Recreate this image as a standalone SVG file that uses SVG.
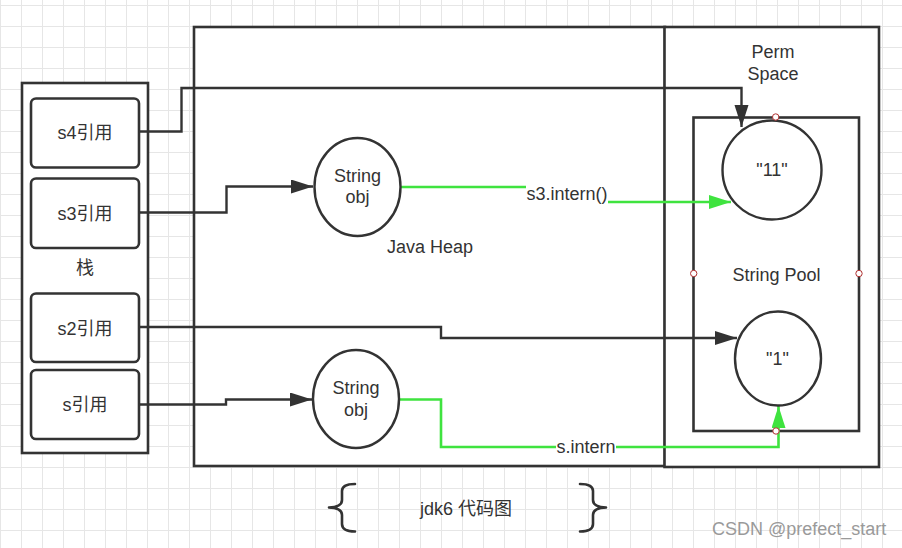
<svg xmlns="http://www.w3.org/2000/svg" width="902" height="548" viewBox="0 0 902 548">
<defs>
<pattern id="grid" width="21" height="21" patternUnits="userSpaceOnUse">
<path d="M0.5,0 V21 M0,5.5 H21" fill="none" stroke="#e6e6e6" stroke-width="1"/>
</pattern>
<marker id="ah" markerUnits="userSpaceOnUse" markerWidth="23" markerHeight="15" refX="22" refY="7" orient="auto">
<path d="M0,0 L22,7 L0,14 z" fill="#333"/>
</marker>
<marker id="ahg" markerUnits="userSpaceOnUse" markerWidth="23" markerHeight="15" refX="22" refY="7" orient="auto">
<path d="M0,0 L22,7 L0,14 z" fill="#3fe33f"/>
</marker>
</defs>
<style>
text{font-family:"Liberation Sans","Noto Sans CJK SC",sans-serif;font-size:18px;fill:#333;text-anchor:middle}
.box{fill:#fff;stroke:#333;stroke-width:2.6}
.ref{fill:#fff;stroke:#333;stroke-width:2.6}
.circ{fill:#fff;stroke:#333;stroke-width:2.4}
.ln{fill:none;stroke:#333;stroke-width:2.4}
.gn{fill:none;stroke:#3fe33f;stroke-width:2.6}
.dot{fill:#fff;stroke:#b03030;stroke-width:1}
.brace{fill:none;stroke:#333;stroke-width:2.6;stroke-linecap:round;stroke-linejoin:round}
</style>
<rect width="902" height="548" fill="#fff"/>
<rect width="902" height="548" fill="url(#grid)"/>

<g id="java-heap">
<rect class="box" x="194" y="27" width="471" height="439"/>
<text x="430" y="253">Java Heap</text>
</g>
<g id="perm-space">
<rect class="box" x="664.5" y="27" width="214.5" height="440"/>
<text x="773" y="57.5">Perm</text>
<text x="773" y="79.5">Space</text>
</g>
<g id="string-pool">
<rect class="box" x="693.5" y="117.5" width="165.5" height="313.5"/>
<text x="776.5" y="280.5">String Pool</text>
</g>
<g id="stack">
<rect class="box" x="22" y="83" width="126" height="370"/>
<text x="85" y="274">栈</text>
</g>
<g id="s4-ref">
<rect class="ref" x="31" y="98.5" width="108" height="69" rx="5"/>
<text x="85" y="139">s4引用</text>
</g>
<g id="s3-ref">
<rect class="ref" x="31" y="178.5" width="108" height="69.5" rx="5"/>
<text x="85" y="219.5">s3引用</text>
</g>
<g id="s2-ref">
<rect class="ref" x="31" y="293.5" width="108" height="68.5" rx="5"/>
<text x="85" y="334.5">s2引用</text>
</g>
<g id="s-ref">
<rect class="ref" x="31" y="370" width="108" height="69" rx="5"/>
<text x="85" y="411">s引用</text>
</g>

<g id="connectors">
<path class="ln" d="M139,131.5 H181.5 V88 H741.5 V127" marker-end="url(#ah)"/>
<path class="ln" d="M139,212.5 H226.5 V186.5 H313" marker-end="url(#ah)"/>
<path class="ln" d="M139,327 H441 V338 H737" marker-end="url(#ah)"/>
<path class="ln" d="M139,404.5 H226 V399.5 H312" marker-end="url(#ah)"/>
<path class="gn" d="M401,187 H567 V202 H731" marker-end="url(#ahg)"/>
<rect x="526" y="181" width="82" height="25" fill="#fff"/>
<text x="567" y="200">s3.intern()</text>
<path class="gn" d="M399,399.5 H441 V447 H778.5 V406" marker-end="url(#ahg)"/>
<rect x="556" y="438" width="60" height="19" fill="#fff"/>
<text x="586" y="453">s.intern</text>
</g>

<g id="string-obj-1">
<ellipse class="circ" cx="357.5" cy="187" rx="43" ry="49"/>
<text x="357.5" y="181.5">String</text>
<text x="357.5" y="203">obj</text>
</g>
<g id="string-obj-2">
<ellipse class="circ" cx="356" cy="399" rx="43" ry="49"/>
<text x="356" y="394">String</text>
<text x="356" y="416">obj</text>
</g>
<g id="lit-11">
<ellipse class="circ" cx="772" cy="170" rx="49.5" ry="49.5"/>
<text x="772" y="176">"11"</text>
</g>
<g id="lit-1">
<ellipse class="circ" cx="778" cy="358.5" rx="43" ry="47"/>
<text x="777.5" y="365">"1"</text>
</g>

<g id="dots">
<circle class="dot" cx="775.7" cy="117" r="3.2"/>
<circle class="dot" cx="693.7" cy="273.5" r="3.2"/>
<circle class="dot" cx="859" cy="273.5" r="3.2"/>
<circle class="dot" cx="776" cy="431" r="3.2"/>
</g>

<g id="caption">
<path class="brace" d="M355,484 Q342,484 342,491 V500 Q342,507 329,507.5 Q342,508 342,515 V524 Q342,531.5 355,531.5"/>
<path class="brace" d="M580,484 Q593,484 593,491 V500 Q593,507 606,507.5 Q593,508 593,515 V524 Q593,531.5 580,531.5"/>
<text x="466" y="514.5">jdk6 代码图</text>
</g>
<text x="712" y="535" style="text-anchor:start;fill:#9a9a9a">CSDN @prefect_start</text>
</svg>
